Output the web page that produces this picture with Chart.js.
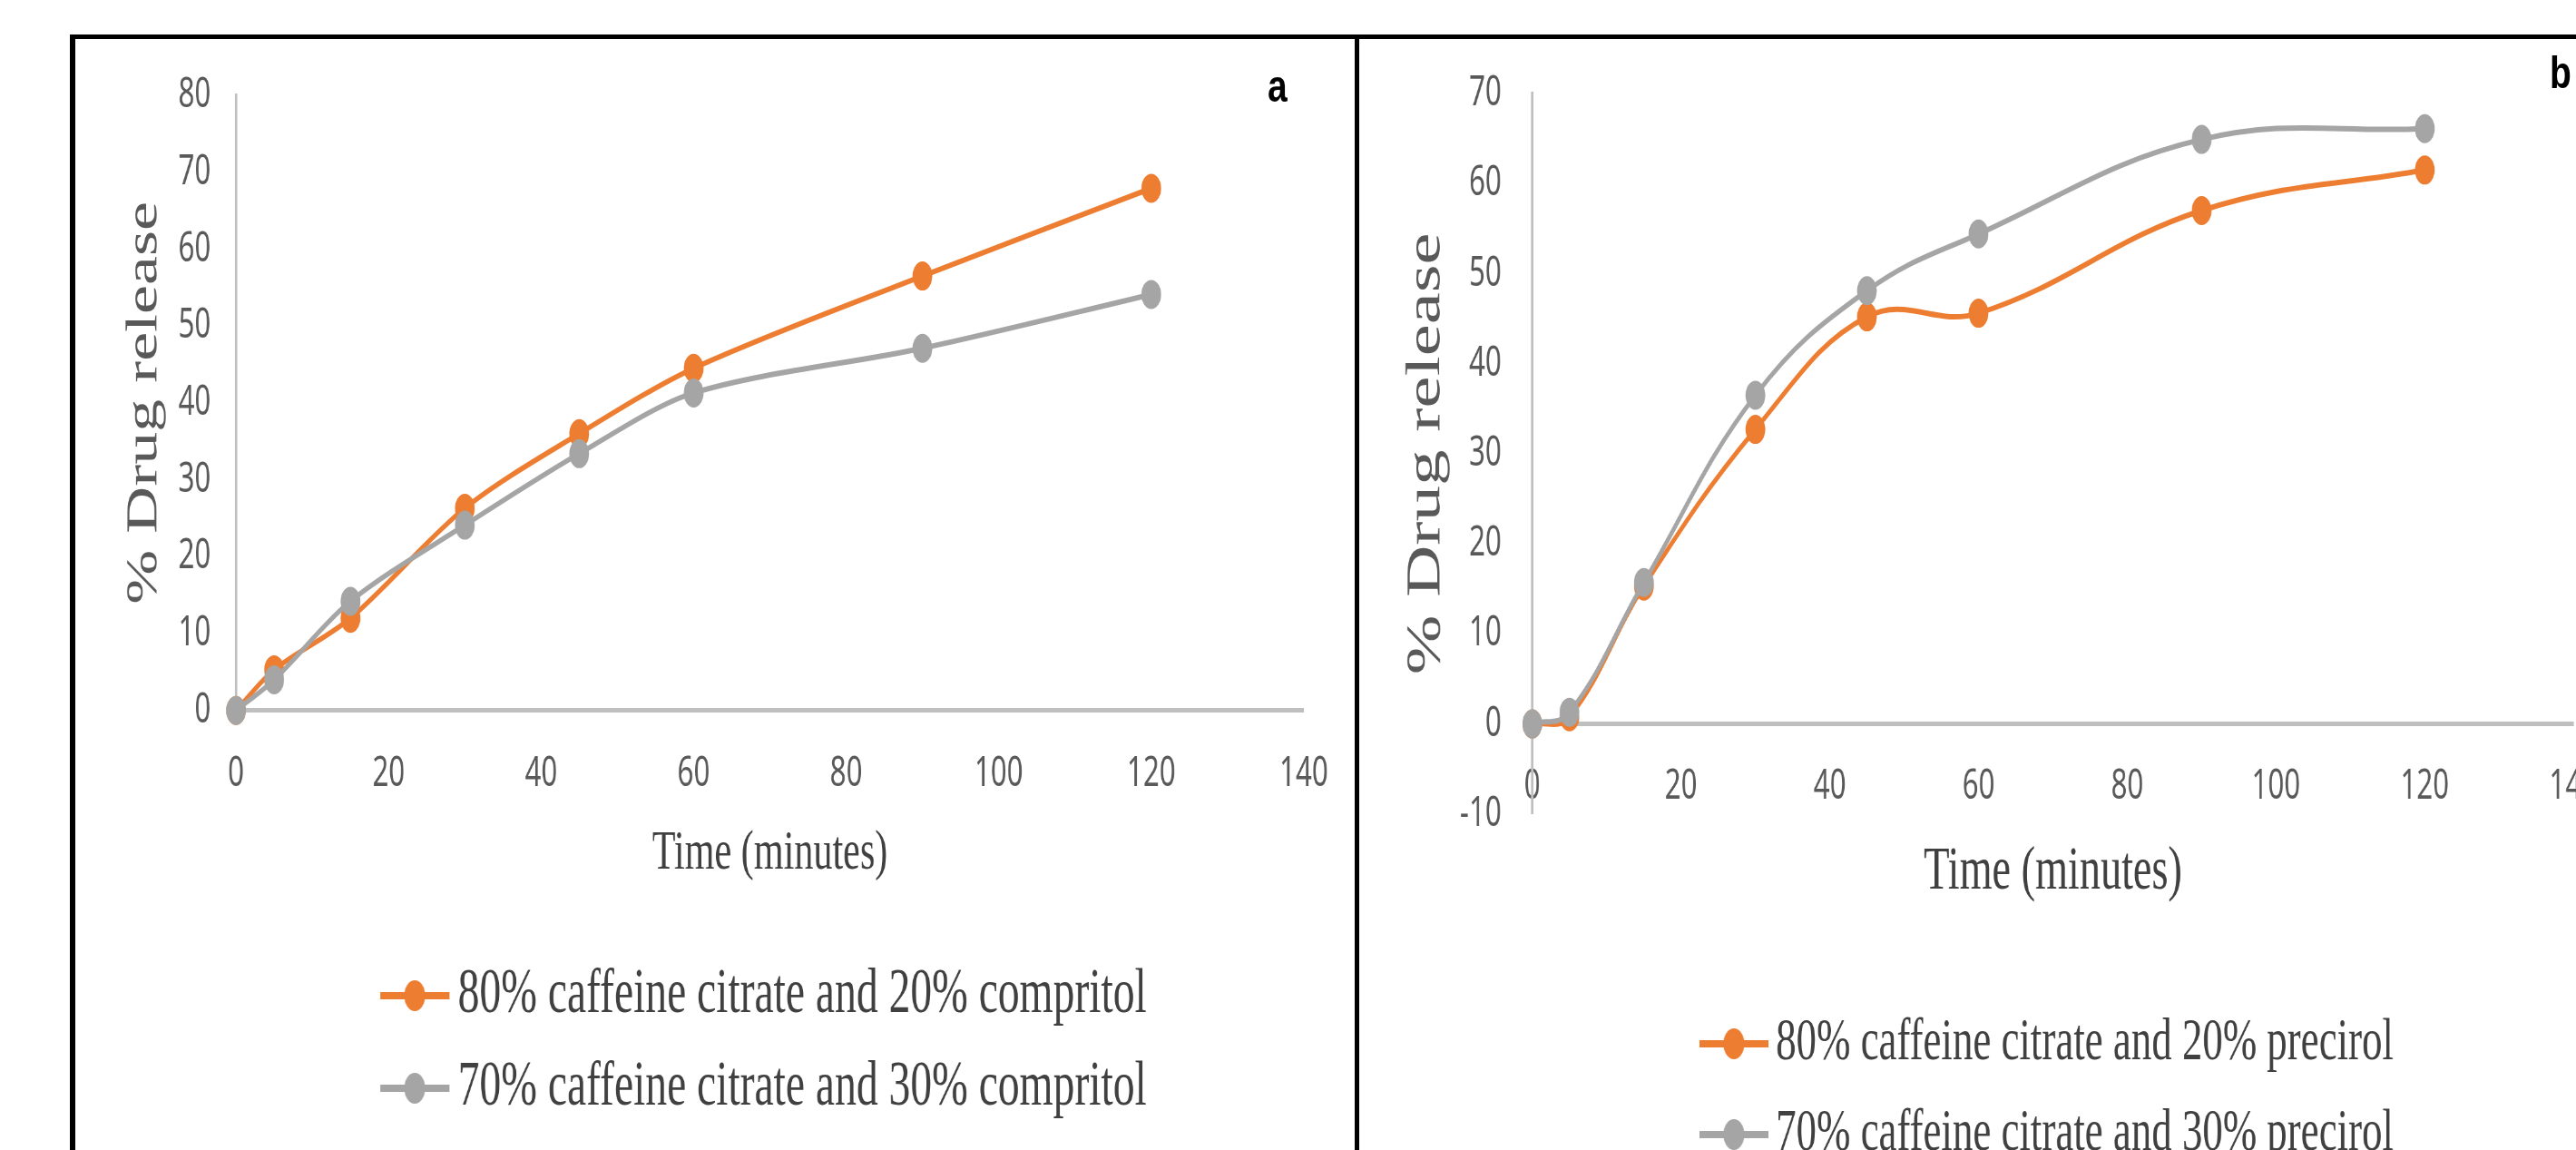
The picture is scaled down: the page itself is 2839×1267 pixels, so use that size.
<!DOCTYPE html>
<html>
<head>
<meta charset="utf-8">
<script src="https://cdn.jsdelivr.net/npm/chart.js@4.4.1/dist/chart.umd.min.js"></script>
<style>
  html, body { margin: 0; padding: 0; background: #fff; width: 2839px; height: 1267px; overflow: hidden; }
  .panel { position: absolute; top: 44px; transform-origin: 0 0; transform: scaleX(0.68); }
  .rule { position: absolute; background: #000; }
  .tag { position: absolute; font-family: "Liberation Sans", Arial, sans-serif; font-weight: bold; font-size: 50px; line-height: 1; color: #000; transform-origin: 0 0; transform: scaleX(0.78); }
</style>
</head>
<body>
<div class="panel" style="left:84px"><canvas id="chartA" width="2071" height="1300"></canvas></div>
<div class="panel" style="left:1499px"><canvas id="chartB" width="2048" height="1450"></canvas></div>
<div class="rule" style="left:77px;top:38px;width:2762px;height:5px"></div>
<div class="rule" style="left:77px;top:38px;width:6px;height:1229px"></div>
<div class="rule" style="left:1493px;top:38px;width:5px;height:1229px"></div>
<div class="tag" style="left:1397px;top:70px">a</div>
<div class="tag" style="left:2810px;top:55px">b</div>
<script>
// sampling times (minutes)
const times = [0, 5, 15, 30, 45, 60, 90, 120];

// panel a - compritol
const comp80 = [0, 5.3, 12.0, 26.3, 36.0, 44.5, 56.5, 67.9];
const comp70 = [0, 4.0, 14.2, 24.1, 33.4, 41.3, 47.1, 54.1];
const labelsA = ['80% caffeine citrate and 20% compritol', '70% caffeine citrate and 30% compritol'];

// panel b - precirol
const prec80 = [0, 0.8, 15.3, 32.7, 45.2, 45.6, 57.0, 61.5];
const prec70 = [0, 1.3, 15.7, 36.5, 48.1, 54.4, 64.9, 66.1];
const labelsB = ['80% caffeine citrate and 20% precirol', '70% caffeine citrate and 30% precirol'];

// tick labels
const xTicks = [0, 20, 40, 60, 80, 100, 120, 140];
const yTicksA = [0, 10, 20, 30, 40, 50, 60, 70, 80];
const yTicksB = [-10, 0, 10, 20, 30, 40, 50, 60, 70];

const ORANGE = '#ED7D31';
const GRAY = '#A5A5A5';
const AXIS = '#BFBFBF';

// little line+dot sample for the legend, like the office legend key
function legendKey(color) {
  const c = document.createElement('canvas');
  c.width = 112; c.height = 40;
  const g = c.getContext('2d');
  g.strokeStyle = color; g.lineWidth = 8;
  g.beginPath(); g.moveTo(0, 20); g.lineTo(112, 20); g.stroke();
  g.fillStyle = color;
  g.beginPath(); g.arc(56, 20, 17, 0, Math.PI * 2); g.fill();
  return c;
}
const keys = [legendKey(ORANGE), legendKey(GRAY)];

function series(label, vals, color, order, tension) {
  return {
    label: label,
    data: times.map((t, i) => ({ x: t, y: vals[i] })),
    borderColor: color,
    backgroundColor: color,
    borderWidth: 6,
    pointRadius: 15,
    pointBorderWidth: 2,
    pointBackgroundColor: color,
    pointBorderColor: color,
    tension: tension,
    clip: false,
    order: order
  };
}

function makeChart(id, c) {
  return new Chart(document.getElementById(id), {
    type: 'line',
    data: {
      datasets: [
        series(c.labels[0], c.s1, ORANGE, 2, c.tension),
        series(c.labels[1], c.s2, GRAY, 1, c.tension)
      ]
    },
    options: {
      responsive: false,
      animation: false,
      devicePixelRatio: 1,
      layout: { padding: c.pad },
      plugins: {
        tooltip: { enabled: false },
        legend: {
          position: 'bottom',
          fullSize: false,
          // empty title only used as a spacer above the legend rows
          title: { display: true, text: '', font: { size: 1 }, padding: { top: c.legendGap, bottom: 0 } },
          labels: {
            usePointStyle: true,
            pointStyleWidth: 70,
            padding: c.legendPad,
            color: '#404040',
            font: { family: 'Liberation Serif', size: c.legendFont },
            sort: (a, b) => a.datasetIndex - b.datasetIndex,
            generateLabels: chart => Chart.defaults.plugins.legend.labels.generateLabels(chart).map(item => {
              item.pointStyle = keys[item.datasetIndex];
              return item;
            })
          }
        }
      },
      scales: {
        x: {
          type: 'linear',
          min: 0, max: 140,
          position: c.xPos,
          grid: { display: false, drawTicks: false },
          border: { display: true, color: AXIS, width: 5 },
          afterBuildTicks: s => { s.ticks = xTicks.map(v => ({ value: v })); },
          afterFit: s => { s.height = c.xHeight; },
          ticks: { padding: 42, color: '#595959', font: { family: 'Noto Sans', size: 46 } },
          title: {
            display: true, text: 'Time (minutes)', color: '#404040',
            font: { family: 'Liberation Serif', size: c.xTitleFont },
            padding: { top: 0, bottom: 0 }
          }
        },
        y: {
          min: c.yMin, max: c.yMax,
          grid: { display: false, drawTicks: false },
          border: { display: true, color: AXIS, width: 4 },
          afterBuildTicks: s => { s.ticks = c.yTicks.map(v => ({ value: v })); },
          // fixed width, and no extra room above/below for the tick labels
          afterFit: s => { s.width = c.yWidth; s.paddingTop = 0; s.paddingBottom = 0; },
          ticks: { padding: c.yTickPad, color: '#595959', font: { family: 'Noto Sans', size: 46 } },
          title: {
            display: true, text: '% Drug release', color: '#595959',
            font: { family: 'Liberation Serif', size: c.yTitleFont },
            padding: { top: c.yTitlePad, bottom: 0 }
          }
        }
      }
    }
  });
}

makeChart('chartA', {
  s1: comp80, s2: comp70, labels: labelsA, tension: 0.3,
  yMin: 0, yMax: 80, yTicks: yTicksA,
  pad: { top: 61, right: 52, left: 0, bottom: 100 },
  xPos: 'bottom', xHeight: 195, xTitleFont: 62,
  yWidth: 259, yTickPad: 41, yTitleFont: 72, yTitlePad: 68,
  legendGap: 51, legendPad: 32, legendFont: 70
});

makeChart('chartB', {
  s1: prec80, s2: prec70, labels: labelsB, tension: 0.4,
  yMin: -10, yMax: 70, yTicks: yTicksB,
  pad: { top: 59, right: 80, left: 0, bottom: 201 },
  xPos: { y: 0 }, xHeight: 204, xTitleFont: 68,
  yWidth: 279, yTickPad: 50, yTitleFont: 79, yTitlePad: 60,
  legendGap: 185, legendPad: 34, legendFont: 66
});
</script>
</body>
</html>
